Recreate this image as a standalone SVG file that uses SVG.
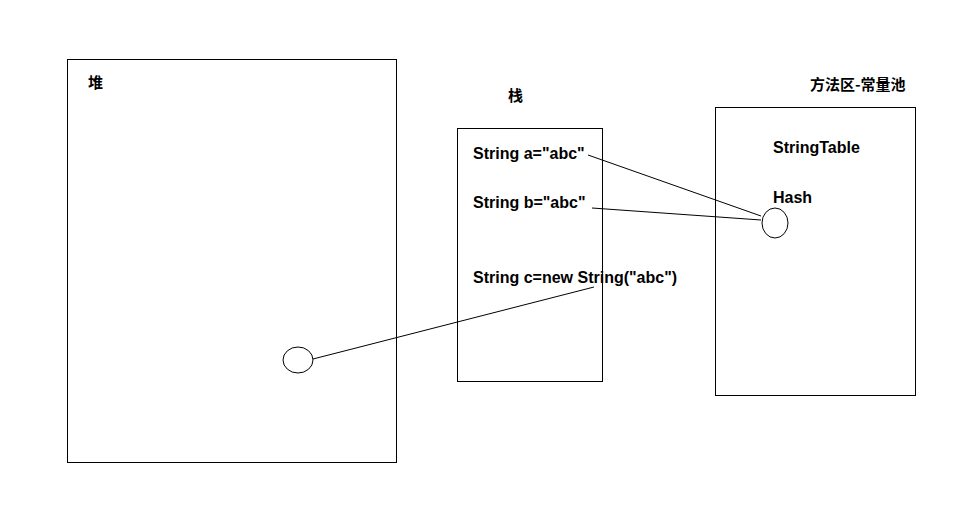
<svg xmlns="http://www.w3.org/2000/svg" width="976" height="516" viewBox="0 0 976 516">
<style>
.box{fill:none;stroke:#000;stroke-width:1}
.t{font-family:"Liberation Sans","Noto Sans CJK SC",sans-serif;font-weight:bold;font-size:16px;fill:#000}
.c{font-family:"Noto Sans CJK SC",sans-serif;font-weight:bold;font-size:15px;fill:#000}
.ln{stroke:#000;stroke-width:1;fill:none}
</style>
<rect width="976" height="516" fill="#fff"/>
<g id="heap">
<rect class="box" x="67.5" y="59.5" width="329" height="403"/>
<text class="c" x="88" y="88">堆</text>
<ellipse class="box" cx="298" cy="360" rx="15" ry="13"/>
</g>
<g id="stack">
<rect class="box" x="457.5" y="128.5" width="145" height="253"/>
<text class="c" x="508" y="101">栈</text>
<text class="t" x="473" y="159">String a="abc"</text>
<text class="t" x="473" y="208">String b="abc"</text>
<text class="t" x="473" y="283">String c=new String("abc")</text>
</g>
<g id="method-area">
<rect class="box" x="715.5" y="107.5" width="200" height="288"/>
<text class="c" x="810" y="90">方法区-常量池</text>
<text class="t" x="773" y="153">StringTable</text>
<text class="t" x="773" y="203">Hash</text>
<ellipse class="box" cx="775" cy="223" rx="13" ry="15"/>
</g>
<g id="connectors">
<line class="ln" x1="588" y1="155" x2="761" y2="216"/>
<line class="ln" x1="592" y1="208" x2="761" y2="220"/>
<line class="ln" x1="313" y1="359" x2="594" y2="287"/>
</g>
</svg>
